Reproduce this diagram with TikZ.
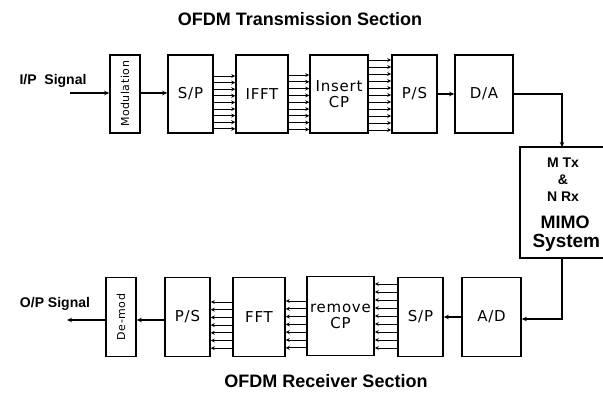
\documentclass[tikz,border=0pt]{standalone}
\usepackage{fontspec}
\setmainfont{Liberation Sans}
\newfontfamily\blkfont[LetterSpace=5]{DejaVu Sans}
\usetikzlibrary{arrows.meta}

\begin{document}
\begin{tikzpicture}[x=1pt, y=-1pt,
  blk/.style={draw, line width=1.6pt, inner sep=1pt, align=center,
    font=\blkfont\fontsize{15}{16}\selectfont},
  vblk/.style={blk, font=\blkfont\fontsize{11}{12}\selectfont},
  lbl/.style={font=\bfseries\fontsize{14}{16}\selectfont},
  ttl/.style={font=\bfseries\fontsize{18}{20}\selectfont},
  sig/.style={-{Stealth[length=5pt,width=4.5pt]}, line width=1.2pt},
  bus/.style={-{Stealth[length=4pt,width=4pt]}, line width=0.9pt}]
  \useasboundingbox (0,0) rectangle (603,393);

  % titles
  \node[ttl] (ttx) at (300,19) {OFDM Transmission Section};
  \node[ttl] (trx) at (326,381) {OFDM Receiver Section};

  % transmitter row
  \node[lbl] (ip) at (53,81) {I/P\ \ Signal};
  \coordinate (ipin) at (70,93);
  \node[vblk, minimum width=30pt, minimum height=78pt] (mod) at (125,94)
    {\rotatebox{90}{Modulation}};
  \node[blk, minimum width=45pt, minimum height=78pt] (sp) at (190.5,94) {S/P};
  \node[blk, minimum width=52pt, minimum height=78pt] (ifft) at (262,94) {IFFT};
  \node[blk, minimum width=58pt, minimum height=78pt] (icp) at (339,94) {Insert\\CP};
  \node[blk, minimum width=45pt, minimum height=78pt] (ps) at (414.5,94) {P/S};
  \node[blk, minimum width=58pt, minimum height=78pt] (da) at (484,94) {D/A};

  \draw[sig] (ipin) -- (mod.west |- ipin);
  \draw[sig] (mod.east |- 0,93) -- (sp.west |- 0,93);
  \foreach \i in {0,...,8}
    \draw[bus] (sp.east |- 0,{76+6.6*\i}) -- (ifft.west |- 0,{76+6.6*\i});
  \foreach \i in {0,...,8}
    \draw[bus] (ifft.east |- 0,{75+6.8*\i}) -- (icp.west |- 0,{75+6.8*\i});
  \foreach \i in {0,...,10}
    \draw[bus] (icp.east |- 0,{60+7*\i}) -- (ps.west |- 0,{60+7*\i});
  \draw[sig] (ps) -- (da);

  % channel
  \node[draw, line width=1.6pt, minimum width=92pt, minimum height=111pt]
    (mimo) at (566,202.5) {};
  \coordinate (mtop) at (562,147);
  \coordinate (mbot) at (562,258);
  \node[lbl] (mtx) at (563,163) {M Tx};
  \node[lbl] (amp) at (563,180) {\&};
  \node[lbl] (nrx) at (563,197) {N Rx};
  \node[ttl] (mimoa) at (565,222) {MIMO};
  \node[ttl, anchor=west, font=\bfseries\fontsize{19}{20}\selectfont] (mimob) at (529,243) {System};
  \draw[sig] (da.east) -| (mtop);

  % receiver row
  \node[vblk, minimum width=30pt, minimum height=79pt] (demod) at (121,317)
    {\rotatebox{90}{De-mod}};
  \node[blk, minimum width=45pt, minimum height=79pt] (ps2) at (187.5,317) {P/S};
  \node[blk, minimum width=52pt, minimum height=79pt] (fft) at (259,317) {FFT};
  \node[blk, minimum width=67pt, minimum height=79pt] (rcp) at (340.5,316) {remove\\CP};
  \node[blk, minimum width=45pt, minimum height=79pt] (sp2) at (420.5,317) {S/P};
  \node[blk, minimum width=59pt, minimum height=79pt] (ad) at (491.5,317) {A/D};
  \node[lbl] (op) at (55,304) {O/P Signal};
  \coordinate (opout) at (67,320);

  \draw[sig] (mbot) |- (ad.east |- 0,319);
  \draw[sig] (ad) -- (sp2);
  \foreach \i in {0,...,8}
    \draw[bus] (sp2.west |- 0,{284+8*\i}) -- (rcp.east |- 0,{284+8*\i});
  \foreach \i in {0,...,6}
    \draw[bus] (rcp.west |- 0,{301+7.8*\i}) -- (fft.east |- 0,{301+7.8*\i});
  \foreach \i in {0,...,6}
    \draw[bus] (fft.west |- 0,{302+7.7*\i}) -- (ps2.east |- 0,{302+7.7*\i});
  \draw[sig] (ps2.west |- 0,320) -- (demod.east |- 0,320);
  \draw[sig] (demod.west |- opout) -- (opout);
\end{tikzpicture}
\end{document}
